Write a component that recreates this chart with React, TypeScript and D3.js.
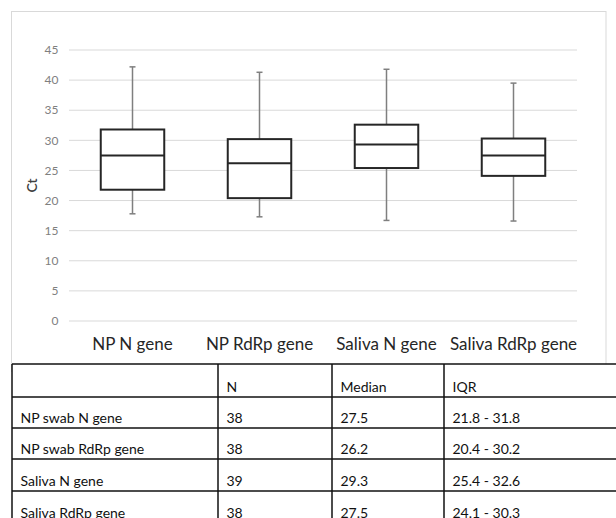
import * as d3 from 'd3';

// box plot data (Ct values)
const categories = ['NP N gene', 'NP RdRp gene', 'Saliva N gene', 'Saliva RdRp gene'];
const whiskerMax = [42.2, 41.3, 41.8, 39.5];
const q3 = [31.8, 30.2, 32.6, 30.3];
const medians = [27.5, 26.2, 29.3, 27.5];
const q1 = [21.8, 20.4, 25.4, 24.1];
const whiskerMin = [17.8, 17.3, 16.7, 16.6];
const yTicks = [0, 5, 10, 15, 20, 25, 30, 35, 40, 45];

// summary table
const tableHeader = ['', 'N', 'Median', 'IQR'];
const rowLabels = ['NP swab N gene', 'NP swab RdRp gene', 'Saliva N gene', 'Saliva RdRp gene'];
const nValues = [38, 38, 39, 38];

const W = 616;
const H = 518;
const FONT = 'Lato, "Open Sans", sans-serif';

export default function App() {
  const y = d3.scaleLinear().domain([0, 45]).range([321, 50]);
  const x = d3.scaleBand<string>().domain(categories).range([69, 577]);
  const bw = x.bandwidth() * 0.5;

  // table layout
  const colEdges = [12, 218, 332, 444, 640];
  const rowEdges = [364, 397, 428, 459, 491, 523];
  const rows = rowLabels.map((r, i) => [
    r,
    String(nValues[i]),
    medians[i].toFixed(1),
    `${q1[i].toFixed(1)} - ${q3[i].toFixed(1)}`,
  ]);
  const allRows = [tableHeader, ...rows];

  return (
    <svg
      width={W}
      height={H}
      style={{ position: 'absolute', left: 0, top: 0, background: '#fff' }}
      fontFamily={FONT}
    >
      {/* chart frame */}
      <rect x={11.5} y={11.5} width={594.5} height={360} fill="none" stroke="#d9d9d9" strokeWidth={1} />

      {/* grid + y ticks */}
      {yTicks.map((t) => (
        <g key={t}>
          <line x1={69} x2={577} y1={y(t)} y2={y(t)} stroke="#d9d9d9" strokeWidth={1} />
          <text x={58.5} y={y(t)} dy="0.35em" textAnchor="end" fontSize={12} fill="#7f7f7f">
            {t}
          </text>
        </g>
      ))}
      <text
        transform={`translate(37,${y(22.5)}) rotate(-90)`}
        textAnchor="middle"
        fontSize={14}
        fill="#404040"
        fontWeight={600}
      >
        Ct
      </text>

      {/* boxes */}
      {categories.map((c, i) => {
        const cx = (x(c) ?? 0) + x.bandwidth() / 2;
        return (
          <g key={c}>
            <line x1={cx} x2={cx} y1={y(whiskerMax[i])} y2={y(q3[i])} stroke="#7f7f7f" strokeWidth={1.5} />
            <line x1={cx} x2={cx} y1={y(q1[i])} y2={y(whiskerMin[i])} stroke="#7f7f7f" strokeWidth={1.5} />
            <line x1={cx - 3} x2={cx + 3} y1={y(whiskerMax[i])} y2={y(whiskerMax[i])} stroke="#7f7f7f" strokeWidth={1.5} />
            <line x1={cx - 3} x2={cx + 3} y1={y(whiskerMin[i])} y2={y(whiskerMin[i])} stroke="#7f7f7f" strokeWidth={1.5} />
            <rect
              x={cx - bw / 2}
              y={y(q3[i])}
              width={bw}
              height={y(q1[i]) - y(q3[i])}
              fill="#fff"
              stroke="#262626"
              strokeWidth={2}
            />
            <line x1={cx - bw / 2} x2={cx + bw / 2} y1={y(medians[i])} y2={y(medians[i])} stroke="#262626" strokeWidth={2} />
            <text x={cx} y={350} textAnchor="middle" fontSize={17} fill="#262626">
              {c}
            </text>
          </g>
        );
      })}

      {/* table */}
      <rect x={12} y={rowEdges[0]} width={W} height={H - rowEdges[0]} fill="#fff" />
      {rowEdges.map((ry, i) => (
        <line key={'r' + i} x1={12} x2={W} y1={ry} y2={ry} stroke="#111" strokeWidth={1.5} />
      ))}
      {colEdges.slice(0, 4).map((cx, i) => (
        <line key={'c' + i} x1={cx} x2={cx} y1={rowEdges[0]} y2={H} stroke="#111" strokeWidth={1.5} />
      ))}
      {allRows.map((row, ri) =>
        row.map((cell, ci) => (
          <text
            key={ri + '-' + ci}
            x={colEdges[ci] + 8.5}
            y={rowEdges[ri + 1] - 5}
            fontSize={14}
            fill="#111"
          >
            {cell}
          </text>
        ))
      )}
    </svg>
  );
}
